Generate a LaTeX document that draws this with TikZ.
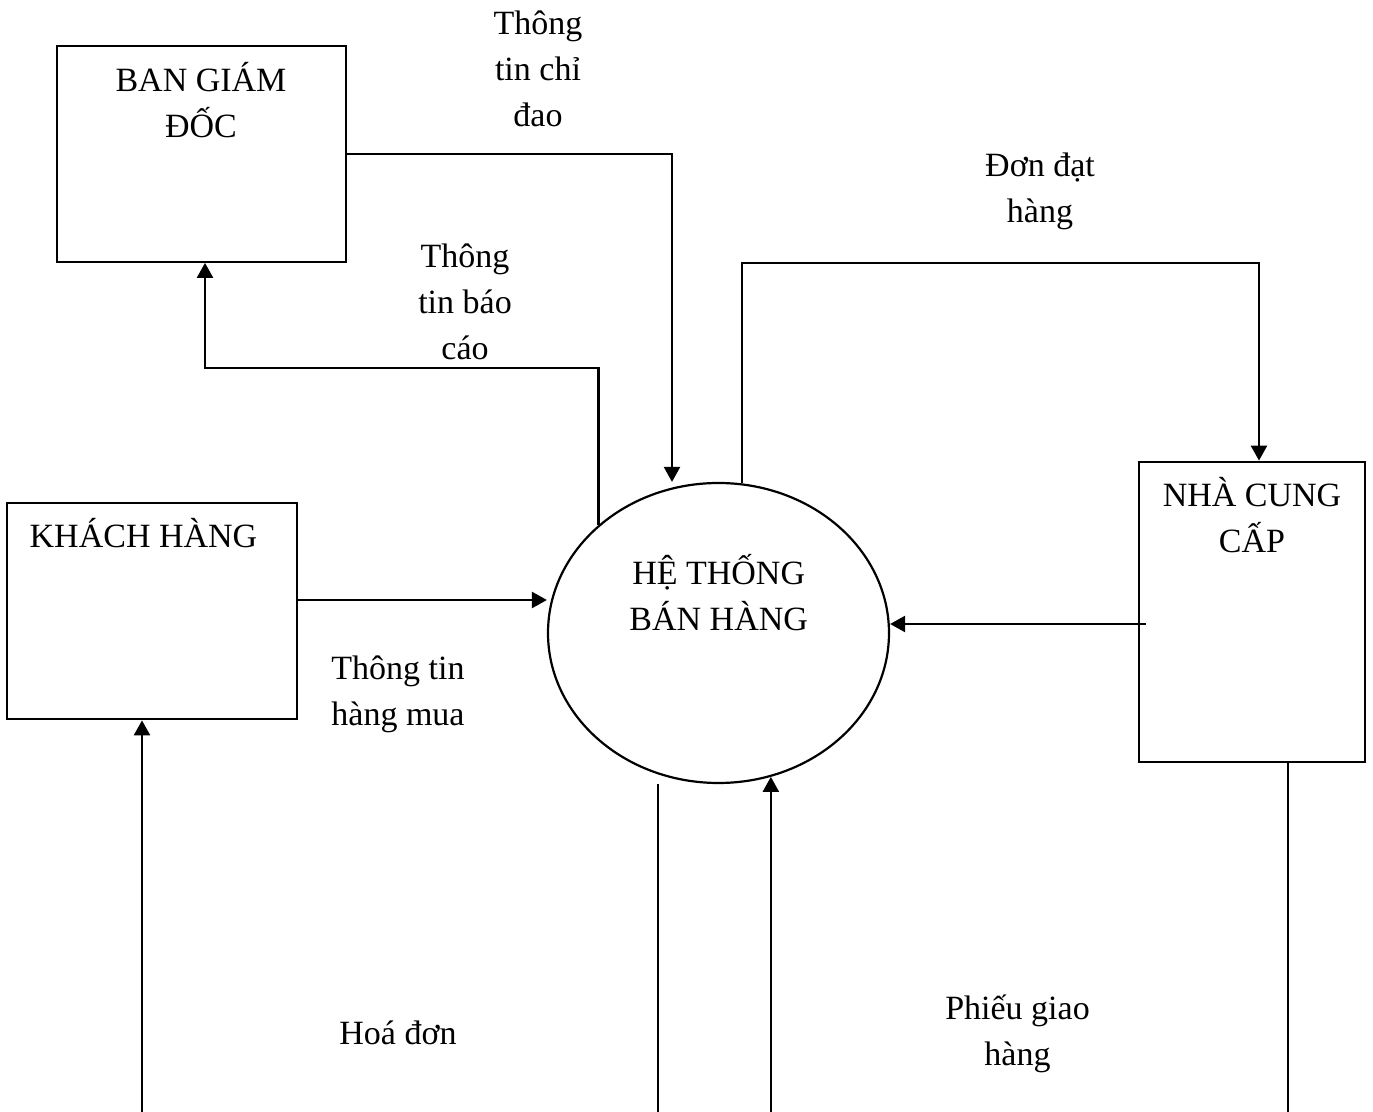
\documentclass[tikz,border=0pt]{standalone}
\usepackage{fontspec}
\setmainfont{Liberation Serif}
\usetikzlibrary{arrows.meta,shapes.geometric,calc}
% stacked, centred lines whose baseline is that of the first line
\newcommand\stk[1]{\begin{tabular}[t]{@{}c@{}}#1\end{tabular}}
\begin{document}
\begin{tikzpicture}[x=0.5pt,y=-0.5pt,
  box/.style={draw,rectangle,inner sep=0pt,line width=1.1pt},
  proc/.style={draw,ellipse,inner sep=0pt,line width=1.1pt},
  lbl/.style={inner sep=0pt,anchor=base,font=\fontsize{17}{23}\selectfont},
  arrowflow/.style={line width=1.2pt,-{Triangle[length=7.5pt,width=8pt]}}]
\useasboundingbox (0,0) rectangle (1373,1112);
\clip (0,0) rectangle (1373,1112);

% external entities and the process
\node[box,minimum width=144.5pt,minimum height=108pt] (bgd) at (201.7,153.8) {};
\node[box,minimum width=144.7pt,minimum height=108pt] (kh) at (152,611.3) {};
\node[box,minimum width=113pt,minimum height=150pt] (ncc) at (1252,611.7) {};
\node[proc,minimum width=170.5pt,minimum height=150pt] (htbh) at (718.5,633) {};

% names inside the shapes
\node[lbl] (tBGD) at (201,92) {\stk{BAN GIÁM\\ĐỐC}};
\node[lbl] (tKH) at (143.5,548) {KHÁCH HÀNG};
\node[lbl] (tNCC) at (1252,507) {\stk{NHÀ CUNG\\CẤP}};
\node[lbl] (tHT) at (718.7,585) {\stk{HỆ THỐNG\\BÁN HÀNG}};

% flow labels
\node[lbl] (lChiDao) at (538,35) {\stk{Thông\\tin chỉ\\đao}};
\node[lbl] (lBaoCao) at (465,268) {\stk{Thông\\tin báo\\cáo}};
\node[lbl] (lDonDat) at (1040,177) {\stk{Đơn đạt\\hàng}};
\node[lbl] (lHangMua) at (398,680) {\stk{Thông tin\\hàng mua}};
\node[lbl] (lHoaDon) at (398,1044) {Hoá đơn};
\node[lbl] (lPhieu) at (1017.5,1020) {\stk{Phiếu giao\\hàng}};

% bend points
\coordinate (k1) at (672,153);
\coordinate (k2) at (205,368);
\coordinate (k3) at (1259,263);
\coordinate (k6) at (658,1130);
\coordinate (k7) at (1288,1130);

% flows
\draw[arrowflow] (bgd.east) -| (htbh.north -| k1);
\draw[arrowflow] (htbh.138) |- (k2) -- (bgd.south -| k2);
\draw[arrowflow] (htbh.81) |- (k3) -- (ncc.north -| k3);
\draw[arrowflow] (kh.east |- 0,600) -- (htbh.west |- 0,600);
\draw[arrowflow] ($(ncc.west |- 0,624)+(8,0)$) -- (htbh.east |- 0,624);
\draw[arrowflow] (htbh.south -| k6) -- (k6) -| (kh.south -| 142,0);
\draw[arrowflow] (ncc.south -| k7) -- (k7) -| (htbh.290);
\end{tikzpicture}
\end{document}
